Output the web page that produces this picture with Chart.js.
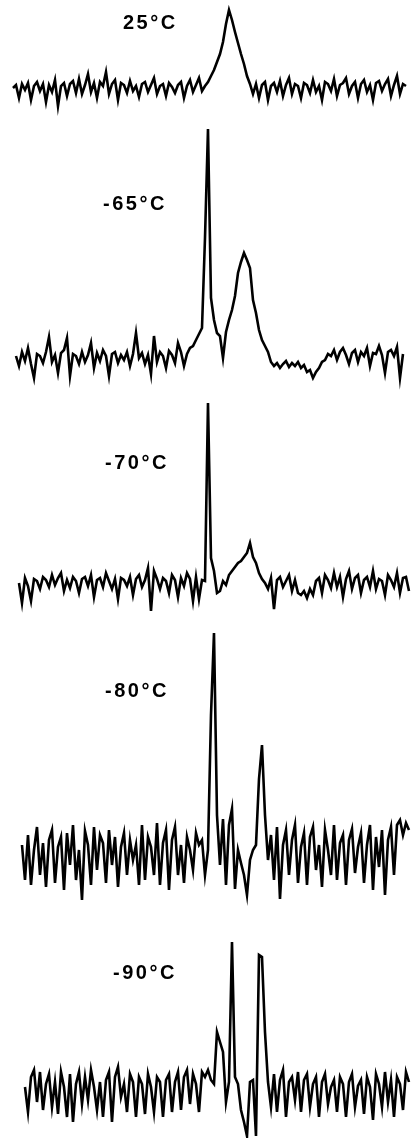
<!DOCTYPE html>
<html>
<head>
<meta charset="utf-8">
<script src="https://cdn.jsdelivr.net/npm/chart.js@4.4.0/dist/chart.umd.min.js"></script>
<style>
    body { margin: 0; background: #fff; }
    #page { position: relative; width: 411px; height: 1138px; overflow: hidden; background: #fff; }
    canvas { position: absolute; left: 0; }
    .temp {
        position: absolute;
        font-family: 'Liberation Sans', Arial, sans-serif;
        font-size: 20px;
        font-weight: bold;
        line-height: 1;
        letter-spacing: 2.5px;
        color: #000;
        white-space: nowrap;
    }
</style>
</head>
<body>
<div id="page">
    <canvas id="trace-25" width="411" height="120" style="top:0px"></canvas>
    <canvas id="trace-65" width="411" height="270" style="top:120px"></canvas>
    <canvas id="trace-70" width="411" height="240" style="top:390px"></canvas>
    <canvas id="trace-80" width="411" height="280" style="top:630px"></canvas>
    <canvas id="trace-90" width="411" height="228" style="top:910px"></canvas>
    <div class="temp" style="left:123px; top:12px">25°C</div>
    <div class="temp" style="left:103px; top:193px">-65°C</div>
    <div class="temp" style="left:105px; top:452px">-70°C</div>
    <div class="temp" style="left:105px; top:680px">-80°C</div>
    <div class="temp" style="left:113px; top:962px">-90°C</div>
</div>
<script>
// Spectra (arbitrary intensity units, one value per channel)
const temp25Start = 0;
const temp25Values = [
    0, 3, -10, 4, -2, 5, -12, 2, 6, -3,
    4, -14, 3, -4, 8, -18, 2, 5, -8, 4,
    7, -5, 9, -6, 3, 14, -4, 5, -10, 6,
    2, 16, -6, 4, 8, -12, 5, 3, -5, 7,
    -3, 2, -9, 4, 6, -4, 3, 10, -6, 2,
    4, -8, 5, 1, -5, 3, 6, -10, 2, 8,
    -4, 3, 10, -3,
    2, 6, 12, 18, 26, 34, 46, 64, 78, 68, 56, 45, 34, 24, 12, 4,
    -6, 4, -10, 3, 6, -12, 2, 5, -4, 7,
    -8, 3, 10, -6, 4, 2, -10, 5, 3, -5,
    8, -4, 2, -12, 6, 4, -3, 9, -8, 3,
    5, 10, -6, 2, 6, -10, 4, 8, -4, 3,
    -12, 5, 7, -3, 4, 9, -8, 3, 12, -6,
    4, 2
];

const temp65Start = 1;
const temp65Values = [
    2, -8, 6, -3, 10, -6, -20, 4, 2, -5,
    6, 21, -4, 3, -15, 5, 8, 20, -18, 4,
    2, -6, 6, -4, 3, 15, -10, 5, -3, 8,
    2, -18, 4, 6, -5, 3, -2, 6, -8, 4,
    25, 0, 5, -6, 3, -16, 22, -4, 6, 2,
    -10, 7, 3, -5, 15, 6, -8, 4, 10, 12,
    18,
    24, 30, 120, 229, 60, 38, 25, 22, 0, 26, 38, 48, 62, 85, 96, 105, 98, 90, 58, 45, 28, 18, 12, 6,
    -4, -8, -5, -10, -6, -3, -9, -5, -8, -4,
    -10, -7, -14, -12, -20, -14, -10, -4, -2,
    4, 2, 8, -2, 6, 10, 3, -6, 5, 8,
    -4, 6, 2, 10, -8, 5, 4, 12, 3, -15,
    6, 8, 2, 11, -20, 4
];

const temp70Start = 2;
const temp70Values = [
    0, -20, 5, -3, -18, 4, 2, -6, 6, 3,
    -4, 8, -2, 5, 10, -8, 3, -5, 6, 2,
    -10, 4, 6, -3, 8, -14, 3, 5, -4, 10,
    2, -6, 4, -16, 5, 3, -3, 6, -12, 4,
    8, -4, 3, 15, -28, 12, 4, -6, 5, 2,
    -10, 8, 3, -14, 5, -3, 10, 4, -18, 6,
    -16, 3,
    2, 180, 25, 12, -10, -8, 2, -2, 8, 12, 16, 20, 22, 26, 30, 40, 26, 20, 10, 4, 0,
    -6, 5, -26, 3, 6, -4, 2, 8, -8, 3,
    -10, -12, -8, -15, -6, -12, 2, 5, -10, 8,
    3, -5, 10, -4, 6, -14, 4, 12, -6, 5,
    8, -10, 3, 6, -4, 12, -6, 4, 2, -12,
    8, 3, -4, 10, -10, 5, 6, -8
];

const temp80Start = 3;
const temp80Values = [
    10, -25, 20, -30, 5, 28, -20, 12, -32, 15,
    25, -28, 8, 18, -35, 22, -10, 30, -25, 5,
    -45, 24, 10, -30, 28, -15, 20, 12, -28, 25,
    -10, 18, -32, 8, 22, -20, 15, -5, 10, -30,
    30, -25, 18, 8, -20, 32, -30, 12, 25, -35,
    15, 28, -20, 10, -28, 18, 5, -15, 22, 10,
    15, -20, 5, 140, 222, 40, -10, 36, -30, 30, 46, -34, 5, -8, -20, -40, -5, 5, 10, 76, 110, 40, -5,
    20, -25, 28, -44, 10, 25, -20, 15, 30, -28,
    8, 22, -30, 18, 28, -15, 10, -32, 25, 5,
    -20, 30, -25, 12, 20, -30, 15, 26, -18, 8,
    22, -28, 10, 30, -35, 18, -12, 25, -40, 15,
    28, -20, 30, 35, 20, 32, 25
];

const temp90Start = 4;
const temp90Values = [
    5, -20, 15, 22, -10, 20, -18, 8, 18, -15,
    10, -22, 20, 5, -25, 18, -30, 8, 20, -12,
    15, -8, 22, 5, -18, 10, -25, 12, 20, -30,
    15, 25, -5, 8, -20, 18, 10, -25, 15, 8,
    -22, 18, 5, -20, 15, 10, -25, 12, 18, -20,
    10, 20, -18, 15, 22, -12, 18, 8, -20, 20,
    15, 22, 12,
    8, 60, 50, 40, -10, 10, 150, 15, 8, -18, -30, -44, 10, 12, -44, 137, 135, 60, 10,
    -15, 18, -20, 12, 22, -25, 10, 15, -8, 20,
    -20, 12, 18, -15, 8, 15, -25, 10, 18, -12,
    5, 12, -20, 15, 8, -25, 10, 18, -15, 6,
    12, -22, 15, 5, -28, 18, 8, -15, 20, -10,
    12, -25, 15, 8, -18, 20, 10
];

// channel range shared by all traces
const channelMin = -4.33;
const channelMax = 132.67;

function toPoints(start, values) {
    return values.map((v, i) => ({ x: start + i, y: v }));
}

function drawTrace(canvasId, start, values, yMin, yMax) {
    const ctx = document.getElementById(canvasId).getContext('2d');
    return new Chart(ctx, {
        type: 'line',
        data: {
            datasets: [{
                data: toPoints(start, values),
                borderColor: '#000',
                borderWidth: 2.6,
                pointRadius: 0,
                tension: 0,
                fill: false,
                clip: false
            }]
        },
        options: {
            responsive: false,
            animation: false,
            layout: { padding: 0 },
            plugins: {
                legend: { display: false },
                tooltip: { enabled: false }
            },
            scales: {
                x: { type: 'linear', display: false, min: channelMin, max: channelMax },
                y: { display: false, min: yMin, max: yMax }
            }
        }
    });
}

drawTrace('trace-25', temp25Start, temp25Values, -32, 88);
drawTrace('trace-65', temp65Start, temp65Values, -32, 238);
drawTrace('trace-70', temp70Start, temp70Values, -47, 193);
drawTrace('trace-80', temp80Start, temp80Values, -55, 225);
drawTrace('trace-90', temp90Start, temp90Values, -46, 182);
</script>
</body>
</html>
